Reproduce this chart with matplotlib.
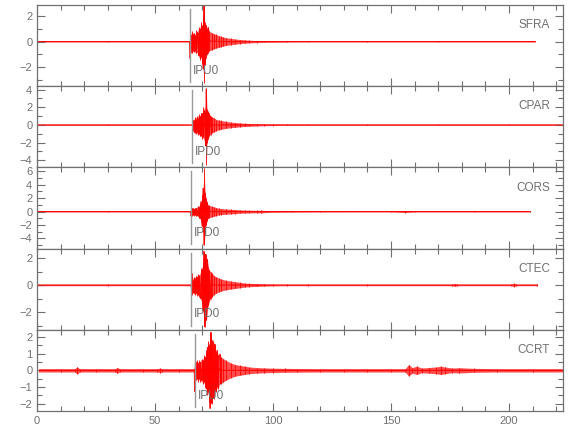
import matplotlib
matplotlib.use("Agg")
import matplotlib.pyplot as plt
from matplotlib.ticker import MultipleLocator
from matplotlib.collections import LineCollection

plt.rcParams['font.family'] = ['Liberation Sans', 'DejaVu Sans']

# station names, pick times and pick labels
stations = ['SFRA', 'CPAR', 'CORS', 'CTEC', 'CCRT']
pick_time = [64.7, 65.8, 65.1, 65.4, 66.8]
pick_label = ['IPU0', 'IPD0', 'IPD0', 'IPD0', 'IPU0']

# trace envelopes (time in s, upper and lower peak amplitudes)
sfra_t = [0, 30, 64.6, 64.8, 65.2, 65.6, 66.0, 66.5, 67.0, 67.5, 68.0, 68.5, 69.0, 69.5, 70.0, 70.4, 70.7,
          71.0, 71.5, 72.0, 72.5, 73.0, 74, 75, 76, 77, 78, 79, 80, 82, 84, 86, 88, 90, 93, 96, 100,
          106, 115, 140, 170, 211]
sfra_up = [0.03, 0.03, 0.03, 1.0, 0.5, 0.8, 0.6, 0.7, 0.5, 0.9, 0.7, 1.1, 1.0, 1.5, 1.2, 1.9, 2.8,
           1.5, 1.3, 1.0, 1.1, 0.8, 0.7, 0.6, 0.55, 0.45, 0.4, 0.35, 0.3, 0.25, 0.2, 0.16, 0.13, 0.1, 0.08, 0.06, 0.05,
           0.04, 0.03, 0.03, 0.03, 0.03]
sfra_dn = [-0.03, -0.03, -0.03, -1.3, -0.6, -0.9, -0.6, -0.8, -0.7, -0.9, -0.8, -1.1, -1.4, -1.2, -1.7, -2.1, -3.2,
           -1.8, -1.3, -1.0, -0.9, -0.7, -0.65, -0.55, -0.5, -0.45, -0.4, -0.35, -0.3, -0.25, -0.2, -0.16, -0.13, -0.1,
           -0.08, -0.06, -0.05, -0.04, -0.03, -0.03, -0.03, -0.03]

cpar_t = [0, 30, 65.8, 66.0, 66.4, 66.8, 67.2, 67.6, 68.0, 68.5, 69.0, 69.5, 70.0, 70.5, 71.0, 71.4, 71.7,
          72.0, 72.5, 73.0, 73.5, 74, 75, 76, 77, 78, 80, 82, 84, 86, 88, 90, 93, 96, 100, 106, 115, 140,
          170, 200, 223]
cpar_up = [0.05, 0.05, 0.05, 0.6, 0.5, 0.9, 0.7, 1.0, 0.8, 1.2, 1.0, 1.4, 1.3, 2.0, 1.6, 2.2, 4.1,
           1.8, 1.5, 1.3, 1.0, 0.9, 0.8, 0.6, 0.55, 0.5, 0.4, 0.32, 0.27, 0.22, 0.18, 0.15, 0.12, 0.09, 0.07, 0.06,
           0.05, 0.05, 0.05, 0.05, 0.05]
cpar_dn = [-0.05, -0.05, -0.05, -0.7, -0.6, -0.9, -1.0, -0.8, -1.1, -1.0, -1.3, -1.2, -1.6, -1.4, -1.9, -2.4, -4.5,
           -2.0, -1.6, -1.2, -1.1, -0.9, -0.8, -0.65, -0.55, -0.5, -0.4, -0.32, -0.27, -0.22, -0.18, -0.15, -0.12,
           -0.09, -0.07, -0.06, -0.05, -0.05, -0.05, -0.05, -0.05]

cors_t = [0, 30, 65.0, 65.2, 65.6, 66.0, 66.5, 67.0, 67.5, 68.0, 68.5, 69.0, 69.5, 70.0, 70.4, 70.8, 71.2,
          71.6, 72.0, 72.5, 73.0, 74, 75, 76, 77, 78, 80, 82, 84, 86, 88, 90, 93, 95, 98, 102, 108, 120,
          150, 156, 160, 185, 209]
cors_up = [0.05, 0.05, 0.05, 0.7, 0.5, 0.6, 0.4, 0.6, 0.5, 0.8, 0.7, 1.2, 1.5, 2.5, 3.5, 6.5, 2.8,
           2.0, 1.4, 1.0, 0.9, 0.8, 0.7, 0.6, 0.5, 0.45, 0.4, 0.35, 0.3, 0.25, 0.22, 0.2, 0.18, 0.2, 0.12, 0.1,
           0.08, 0.06, 0.05, 0.15, 0.05, 0.05, 0.05]
cors_dn = [-0.05, -0.05, -0.05, -0.7, -0.6, -0.5, -0.6, -0.5, -0.7, -0.6, -0.9, -1.0, -1.5, -2.2, -3.0, -5.0, -3.2,
           -2.0, -1.4, -1.0, -0.9, -0.8, -0.7, -0.6, -0.5, -0.45, -0.4, -0.35, -0.3, -0.25, -0.22, -0.2, -0.18,
           -0.2, -0.12, -0.1, -0.08, -0.06, -0.05, -0.15, -0.05, -0.05, -0.05]

ctec_t = [0, 30, 65.3, 65.5, 65.9, 66.3, 66.8, 67.3, 67.8, 68.3, 68.8, 69.3, 69.8, 70.3, 70.7, 71.0, 71.4,
          71.8, 72.2, 72.6, 73.0, 73.5, 74, 75, 76, 77, 78, 80, 82, 84, 86, 88, 90, 93, 96, 100,
          106, 115, 140, 176, 177, 178, 201, 202, 203, 212]
ctec_up = [0.05, 0.05, 0.05, 0.9, 0.4, 0.6, 0.5, 0.7, 0.6, 0.8, 0.7, 1.0, 1.2, 1.6, 2.5, 1.8, 2.3,
           1.6, 1.9, 1.3, 1.1, 1.0, 0.9, 0.7, 0.6, 0.5, 0.45, 0.35, 0.3, 0.25, 0.2, 0.15, 0.12, 0.1, 0.08, 0.06,
           0.05, 0.05, 0.05, 0.05, 0.1, 0.05, 0.05, 0.12, 0.05, 0.05]
ctec_dn = [-0.05, -0.05, -0.05, -0.7, -0.5, -0.6, -0.7, -0.6, -0.8, -0.7, -0.9, -1.0, -1.3, -1.9, -2.4, -3.1, -2.2,
           -2.6, -1.8, -1.5, -1.2, -1.0, -0.9, -0.7, -0.6, -0.5, -0.45, -0.35, -0.3, -0.25, -0.2, -0.15, -0.12,
           -0.1, -0.08, -0.06, -0.05, -0.05, -0.05, -0.05, -0.1, -0.05, -0.05, -0.12, -0.05, -0.05]

ccrt_t = [1, 10, 16, 17, 18, 25, 33, 34, 35, 45, 51, 52, 53, 60, 66.6, 66.8, 67.2, 67.7, 68.2, 68.7,
          69.2, 69.7, 70.2, 70.7, 71.2, 71.7, 72.2, 72.6, 73.0, 73.3, 73.6, 74.0, 74.4, 74.8, 75.3, 75.8,
          76.3, 76.8, 77.4, 78, 79, 80, 82, 84, 86, 88, 90, 93, 96, 100, 105, 110, 120, 130, 140, 150,
          156, 157.5, 159, 161, 163, 166, 169, 171, 173, 176, 179, 185, 195, 210, 223]
ccrt_up = [0.1, 0.1, 0.1, 0.22, 0.1, 0.1, 0.1, 0.17, 0.1, 0.1, 0.1, 0.14, 0.1, 0.1, 0.1, 1.25,
           0.5, 0.6, 0.45, 0.6, 0.5, 0.7, 0.6, 0.9, 0.8, 1.2, 1.4, 1.8, 1.5, 2.0, 2.3, 1.6, 1.8, 1.3, 1.6, 1.1,
           1.2, 0.9, 1.0, 0.8, 0.7, 0.6, 0.45, 0.35, 0.3, 0.25, 0.2, 0.17, 0.15, 0.13, 0.12, 0.11, 0.1, 0.1,
           0.1, 0.1, 0.1, 0.35, 0.17, 0.25, 0.14, 0.17, 0.2, 0.25, 0.2, 0.14, 0.16, 0.12, 0.1, 0.1, 0.1]
ccrt_dn = [-0.1, -0.1, -0.1, -0.22, -0.1, -0.1, -0.1, -0.17, -0.1, -0.1, -0.1, -0.14, -0.1, -0.1, -0.1,
           -1.3, -0.6, -0.5, -0.7, -0.5, -0.7, -0.6, -0.8, -0.7, -1.0, -1.1, -1.5, -1.3, -1.9, -2.3, -1.9, -2.0,
           -1.5, -1.7, -1.2, -1.3, -1.0, -1.1, -0.8, -0.8, -0.7, -0.6, -0.45, -0.35, -0.3, -0.25, -0.2, -0.17,
           -0.15, -0.13, -0.12, -0.11, -0.1, -0.1, -0.1, -0.1, -0.1, -0.35, -0.17, -0.25, -0.14, -0.17, -0.2,
           -0.25, -0.2, -0.14, -0.16, -0.12, -0.1, -0.1, -0.1]

traces = [(sfra_t, sfra_up, sfra_dn), (cpar_t, cpar_up, cpar_dn), (cors_t, cors_up, cors_dn),
          (ctec_t, ctec_up, ctec_dn), (ccrt_t, ccrt_up, ccrt_dn)]

ylims = [(-3.45, 2.85), (-4.8, 4.4), (-5.5, 6.6), (-3.3, 2.7), (-2.45, 2.45)]
ymajor = [2, 2, 2, 2, 1]
yminor = [1, 1, 1, 1, 0.5]

GREY = '#707070'
fig = plt.figure(figsize=(5.8, 4.4), dpi=100)
axes = fig.subplots(5, 1, sharex=True)
fig.subplots_adjust(left=0.064, right=0.971, top=0.989, bottom=0.066, hspace=0)

for i, ax in enumerate(axes):
    t, up, dn = traces[i]
    mid = [(u + d) / 2 for u, d in zip(up, dn)]
    # envelope band, baseline and a vertical stroke at every peak
    ax.fill_between(t, dn, up, color='red', alpha=0.7, lw=0)
    ax.plot(t, mid, color='red', lw=0.8)
    ax.vlines(t, dn, up, color='red', lw=0.6)
    # wiggle between neighbouring peaks where the picks are dense
    zig = [u if k % 2 == 0 else d for k, (u, d) in enumerate(zip(up, dn))]
    segs = [[(t[k], zig[k]), (t[k + 1], zig[k + 1])] for k in range(len(t) - 1) if t[k + 1] - t[k] <= 0.6]
    ax.add_collection(LineCollection(segs, colors='red', linewidths=0.7))

    ax.axvline(pick_time[i], ymin=0.05, ymax=0.95, color='#999999', lw=1)
    ax.text(pick_time[i] + 1.2, 0.19, pick_label[i], transform=ax.get_xaxis_transform(),
            ha='left', va='center', fontsize=8.5, color=GREY)
    ax.text(0.975, 0.75, stations[i], transform=ax.transAxes, ha='right', va='center',
            fontsize=8.5, color=GREY)

    ax.set_xlim(0, 223)
    ax.set_ylim(*ylims[i])
    ax.yaxis.set_major_locator(MultipleLocator(ymajor[i]))
    ax.yaxis.set_minor_locator(MultipleLocator(yminor[i]))
    ax.xaxis.set_major_locator(MultipleLocator(50))
    ax.xaxis.set_minor_locator(MultipleLocator(10))
    ax.tick_params(which='both', direction='in', top=True, right=True, color=GREY,
                   labelcolor=GREY, labelsize=8, width=0.8)
    ax.tick_params(which='major', length=6)
    ax.tick_params(which='minor', length=3.5)
    for s in ax.spines.values():
        s.set_color(GREY)
        s.set_linewidth(0.9)

fig.savefig('out.png', dpi=100)
